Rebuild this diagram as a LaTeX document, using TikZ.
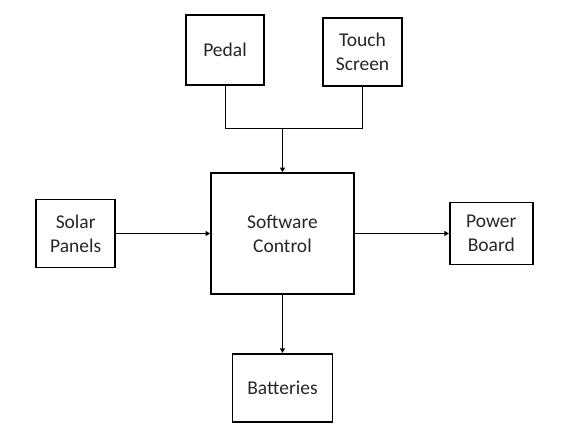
\documentclass[tikz,border=0pt]{standalone}
\usepackage{fontspec}
\setmainfont{Carlito}
\usepackage{xcolor}
\definecolor{cText}{HTML}{262626}
\definecolor{cLine}{HTML}{000000}
\usepackage{tikz}
\usetikzlibrary{positioning,arrows.meta,calc}
\tikzset{
  node-box/.style={draw=cLine,line width=1.8pt,inner sep=0pt,align=center,
    text=cText,font=\fontsize{19.5pt}{24pt}\selectfont},
  link/.style={draw=cLine,line width=0.9pt},
  arrow/.style={link,-{Triangle[length=4.5pt,width=5pt]}},
}
\begin{document}
\begin{tikzpicture}[x=1pt,y=-1pt]
  \useasboundingbox (0,0) rectangle (566,436);
  \node[node-box,minimum width=143pt,minimum height=121pt]
    (soft) at (282.5,233.5) {Software\\Control};
  \node[node-box,minimum width=79pt,minimum height=68pt,left=94pt of soft]
    (solar) {Solar\\Panels};
  \node[node-box,minimum width=83pt,minimum height=62pt,right=94pt of soft]
    (power) {Power\\Board};
  \node[node-box,minimum width=100pt,minimum height=68pt,below=58pt of soft]
    (batt) {Batteries};
  \node[node-box,minimum width=78pt,minimum height=70pt,above=86pt of soft,
    xshift=-57.5pt] (pedal) {Pedal};
  \node[node-box,minimum width=79pt,minimum height=68pt,above=85pt of soft,
    xshift=80pt] (touch) {Touch\\Screen};
  \coordinate (jn) at ($(soft.north)+(0,-44)$);
  % inputs merge above the controller
  \draw[link]  (pedal.south) |- (jn) -| (touch.south);
  \draw[arrow] (jn) -- (soft.north);
  \draw[arrow] (solar) -- (soft);
  \draw[arrow] (soft) -- (power);
  \draw[arrow] (soft) -- (batt);
\end{tikzpicture}
\end{document}
